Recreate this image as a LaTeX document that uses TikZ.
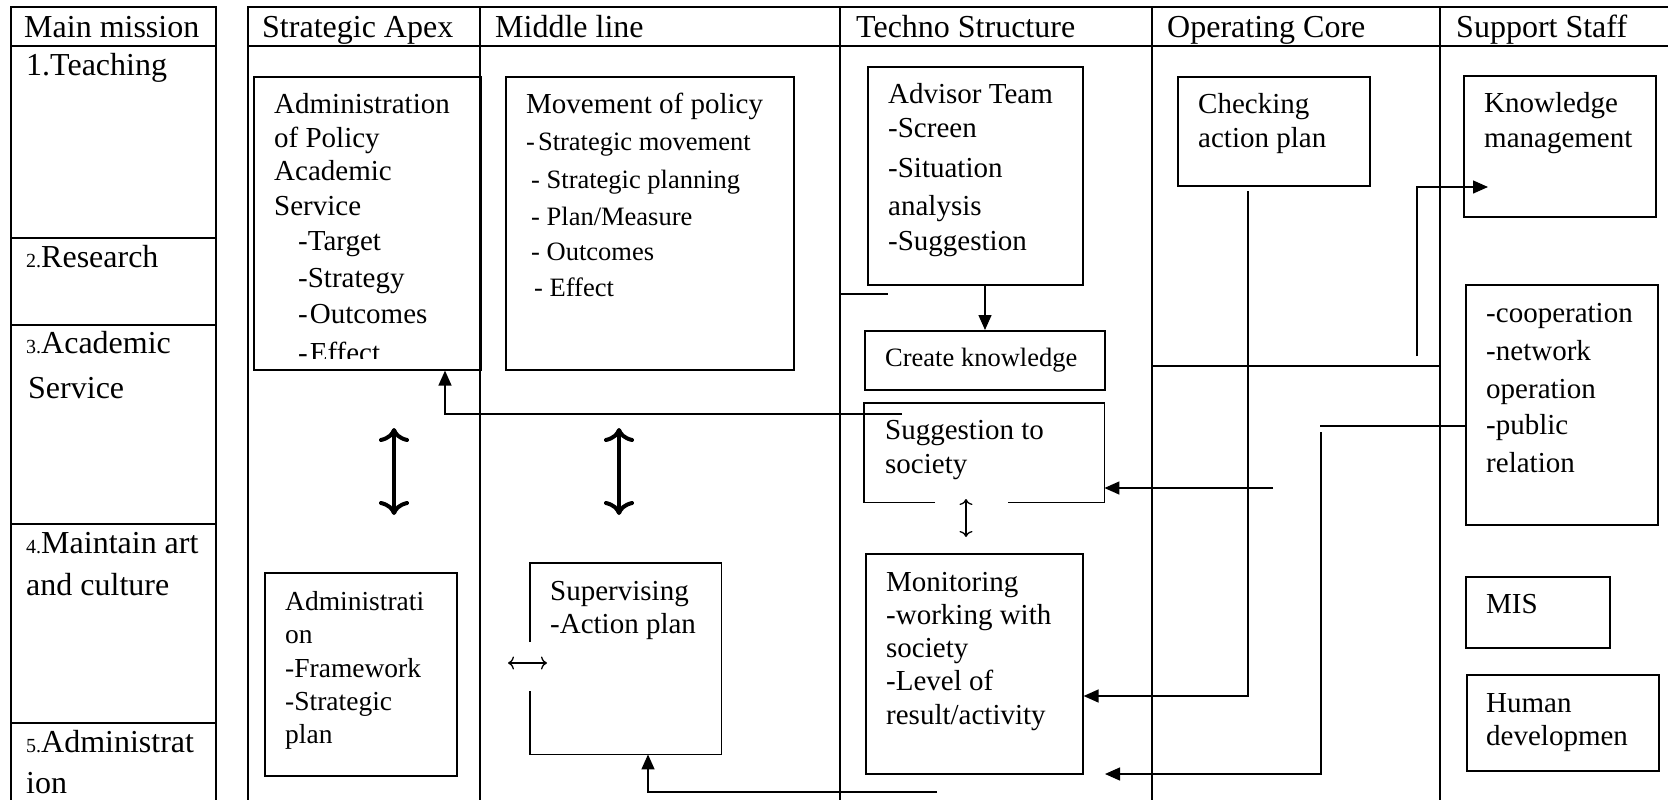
\documentclass[tikz,border=0pt]{standalone}
\usepackage{fontspec}
\setmainfont{Liberation Serif}
\usetikzlibrary{arrows.meta}
\newcommand\fsz[1]{\fontsize{#1}{#1}\selectfont}
\begin{document}
\begin{tikzpicture}[x=1pt,y=-1pt,
  tbl/.style={line width=2pt},
  box/.style={draw,line width=1.6pt,inner sep=0pt,anchor=north west},
  frame/.style={inner sep=0pt,anchor=north west},
  boxline/.style={line width=1.6pt},
  conn/.style={line width=1.4pt},
  arr/.style={conn,-{Triangle[length=15pt,width=13pt]}},
  twoway/.style={line width=4pt,{Computer Modern Rightarrow[length=14pt,width=30pt]}-{Computer Modern Rightarrow[length=14pt,width=30pt]}},
  thinway/.style={line width=1.3pt,{Computer Modern Rightarrow[length=6pt,width=13pt]}-{Computer Modern Rightarrow[length=6pt,width=13pt]}},
  lg/.style={anchor=base west,inner sep=0pt,font=\fsz{32}},
  md/.style={anchor=base west,inner sep=0pt,font=\fsz{29}},
  mdx/.style={anchor=base west,inner sep=0pt,font=\fsz{27.5}},
  sm/.style={anchor=base west,inner sep=0pt,font=\fsz{26.5}},
]
\useasboundingbox (0,0) rectangle (1668,800);

% ---- mission table ----
\draw[tbl] (10.7,810) -- (10.7,7) -- (216,7) -- (216,810);
\foreach \yy in {46,238,325,524,723} \draw[tbl] (10.7,\yy) -- (216,\yy);

% ---- organisation table ----
\draw[tbl] (248,810) -- (248,7) -- (1680,7);
\draw[tbl] (248,46) -- (1680,46);
\foreach \xx in {480,840,1152,1440} \draw[tbl] (\xx,7) -- (\xx,810);

% ---- headers ----
\node[lg] (hMain) at (24,38) {Main mission};
\node[lg] (hApex) at (262,38) {Strategic Apex};
\node[lg] (hMid) at (495,38) {Middle line};
\node[lg] (hTech) at (856,38) {Techno Structure};
\node[lg] (hOper) at (1167,38) {Operating Core};
\node[lg] (hSupp) at (1456,38) {Support Staff};

% ---- mission rows ----
\node[lg] (m1) at (26,76) {1.Teaching};
\node[lg] (m2) at (26,267) {{\fsz{20}2.}Research};
\node[lg] (m3) at (26,353) {{\fsz{20}3.}Academic};
\node[lg] (m3b) at (28,398) {Service};
\node[lg] (m4) at (26,553) {{\fsz{20}4.}Maintain art};
\node[lg] (m4b) at (26,595) {and culture};
\node[lg] (m5) at (26,752) {{\fsz{20}5.}Administrat};
\node[lg] (m5b) at (26,793) {ion};

% ---- boxes ----
\node[box,minimum width=227pt,minimum height=293pt] (pol) at (253,76) {};
\node[box,minimum width=288pt,minimum height=293pt] (mov) at (505,76) {};
\node[box,minimum width=215pt,minimum height=218pt] (adv) at (867,66) {};
\node[box,minimum width=240pt,minimum height=59pt] (ck) at (864,330) {};
\node[frame,minimum width=240pt,minimum height=99pt] (sug) at (864,403) {};
\node[box,minimum width=217pt,minimum height=220pt] (mon) at (865,553) {};
\node[box,minimum width=192pt,minimum height=109pt] (chk) at (1177,76) {};
\node[box,minimum width=192pt,minimum height=141pt] (km) at (1463,75) {};
\node[box,minimum width=192pt,minimum height=240pt] (coop) at (1465,284) {};
\node[box,minimum width=144pt,minimum height=71pt] (mis) at (1465,576) {};
\node[box,minimum width=192pt,minimum height=96pt] (hum) at (1466,674) {};
\node[box,minimum width=192pt,minimum height=203pt] (adm) at (264,572) {};
\node[frame,minimum width=191pt,minimum height=191pt] (sup) at (530,563) {};

% outlines with openings
\draw[boxline] (935,0 |- sug.south) -- (sug.south west) -- (sug.north west)
  -- (sug.north east) -- (sug.south east) -- (1008,0 |- sug.south);
\draw[boxline] (sup.west |- 0,642) -- (sup.north west) -- (sup.north east)
  -- (sup.south east) -- (sup.south west) -- (sup.west |- 0,691);

% ---- box texts ----
\begin{scope}
\clip (253,76) rectangle (480,358);
\foreach \yy/\tx [count=\k] in {113/Administration,147/of Policy,180/Academic,215/Service}
  \node[md] (polA\k) at (274,\yy) {\tx};
\foreach \yy/\tx [count=\k] in {250/-Target,287/-Strategy,323/-\hspace{2pt}Outcomes,362/-\hspace{2pt}Effect}
  \node[md] (polB\k) at (298,\yy) {\tx};
\end{scope}

\node[md] (movA) at (526,113) {Movement of policy};
\node[sm] (movB) at (526,150) {-\hspace{3pt}Strategic movement};
\node[sm] (movC) at (531,188) {- Strategic planning};
\node[sm] (movD) at (531,225) {- Plan/Measure};
\node[sm] (movE) at (531,260) {- Outcomes};
\node[sm] (movF) at (534,296) {- Effect};

\foreach \yy/\tx [count=\k] in {103/Advisor Team,137/-Screen,177/-Situation,215/analysis,250/-Suggestion}
  \node[md] (advT\k) at (888,\yy) {\tx};

\node[sm] (ckT) at (885,366) {Create knowledge};

\node[md] (sugA) at (885,439) {Suggestion to};
\node[md] (sugB) at (885,473) {society};

\foreach \yy/\tx [count=\k] in {591/Monitoring,624/-working with,657/society,690/-Level of,724/{result/activity}}
  \node[md] (monT\k) at (886,\yy) {\tx};

\node[md] (chkA) at (1198,113) {Checking};
\node[md] (chkB) at (1198,147) {action plan};

\node[md] (kmA) at (1484,112) {Knowledge};
\node[md] (kmB) at (1484,147) {management};

\foreach \yy/\tx [count=\k] in {322/-cooperation,360/-network,398/operation,434/-public,472/relation}
  \node[md] (coopT\k) at (1486,\yy) {\tx};

\node[md] (misT) at (1486,613) {MIS};
\node[md] (humA) at (1486,712) {Human};
\node[md] (humB) at (1486,745) {developmen};

\foreach \yy/\tx [count=\k] in {610/Administrati,643/on,677/-Framework,710/-Strategic,743/plan}
  \node[mdx] (admT\k) at (285,\yy) {\tx};

\node[md] (supA) at (550,600) {Supervising};
\node[md] (supB) at (550,633) {-Action plan};

% ---- connector end points ----
\coordinate (stubL) at (840,294);
\coordinate (stubR) at (888,294);
\coordinate (polsrc) at (902,414);
\coordinate (supsrc) at (937,792);
\coordinate (chkout) at (1248,191);
\coordinate (sugsrc) at (1273,488);
\coordinate (kmsrc) at (1417,356);
\coordinate (kmtip) at (1488,187);
\coordinate (opL) at (1152,366);
\coordinate (opR) at (1440,366);
\coordinate (coopturn) at (1320,426);
\coordinate (coopdown) at (1321,432);
\coordinate (bottip) at (1105,774);
\coordinate (da1t) at (394,428);
\coordinate (da1b) at (394,515);
\coordinate (da2t) at (619,428);
\coordinate (da2b) at (619,515);
\coordinate (smT) at (966,499);
\coordinate (smB) at (966,537);
\coordinate (lrL) at (508,663);
\coordinate (lrR) at (547,663);

% ---- connectors ----
\draw[arr] (985,0 |- adv.south) -- (985,0 |- ck.north);
\draw[conn] (stubL) -- (stubR);
\draw[arr] (polsrc) -| (445,0 |- pol.south);
\draw[arr] (supsrc) -| (648,0 |- sup.south);
\draw[arr] (chkout) |- (mon.east |- 0,696);
\draw[arr] (sugsrc) -- (sug.east |- sugsrc);
\draw[arr] (kmsrc) |- (kmtip);
\draw[conn] (opL) -- (opR);
\draw[conn] (coopturn) -- (coop.west |- coopturn);
\draw[arr] (coopdown) |- (bottip);

\draw[twoway] (da1t) -- (da1b);
\draw[twoway] (da2t) -- (da2b);
\draw[thinway] (smT) -- (smB);
\draw[thinway] (lrL) -- (lrR);
\end{tikzpicture}
\end{document}
